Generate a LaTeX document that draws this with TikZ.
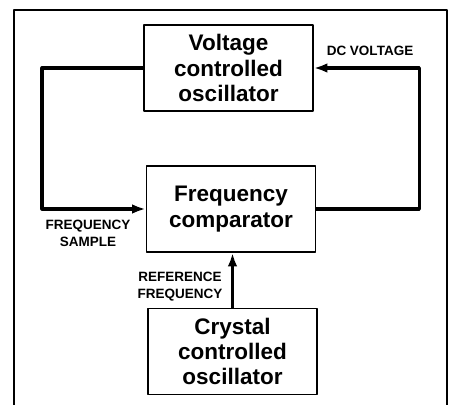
\documentclass[tikz,border=0pt]{standalone}
\usepackage{fontspec}
\setmainfont{Liberation Sans}
\usetikzlibrary{arrows.meta}
\begin{document}
\begin{tikzpicture}[x=0.025cm, y=-0.025cm, line join=round, >={Latex[length=0.34cm,width=0.24cm]},
	block/.style={draw, line width=1.2pt, minimum width=4.22cm, minimum height=2.15cm, align=center,
		font=\bfseries\fontsize{16}{18}\selectfont},
	link/.style={line width=2.5pt},
	tag/.style={align=center, inner sep=0pt, font=\bfseries\fontsize{9.6}{12.2}\selectfont}]
	\useasboundingbox (0,0) rectangle (454,405);
	\draw[line width=1.4pt] (14,405) -- (14,10) -- (447,10) -- (447,405);
	\node[block] (vco) at (228.5,68) {Voltage\\controlled\\oscillator};
	\node[block] (comp) at (231,209) {Frequency\\comparator};
	\node[block] (xtal) at (232.5,351.5) {Crystal\\controlled\\oscillator};
	\draw[link,->] (comp.east) -- ++(103,0) |- (vco.east);
	\draw[link,->] (vco.west) -- ++(-101,0) |- (comp.west);
	\draw[link,->] (xtal.north) -- (xtal.north |- comp.south);
	\node[tag] (dcv) at (370,51) {DC VOLTAGE};
	\node[tag] (fsam) at (88,233.5) {FREQUENCY\\SAMPLE};
	\node[tag] (fref) at (180,287) {REFERENCE\\FREQUENCY};
\end{tikzpicture}
\end{document}
